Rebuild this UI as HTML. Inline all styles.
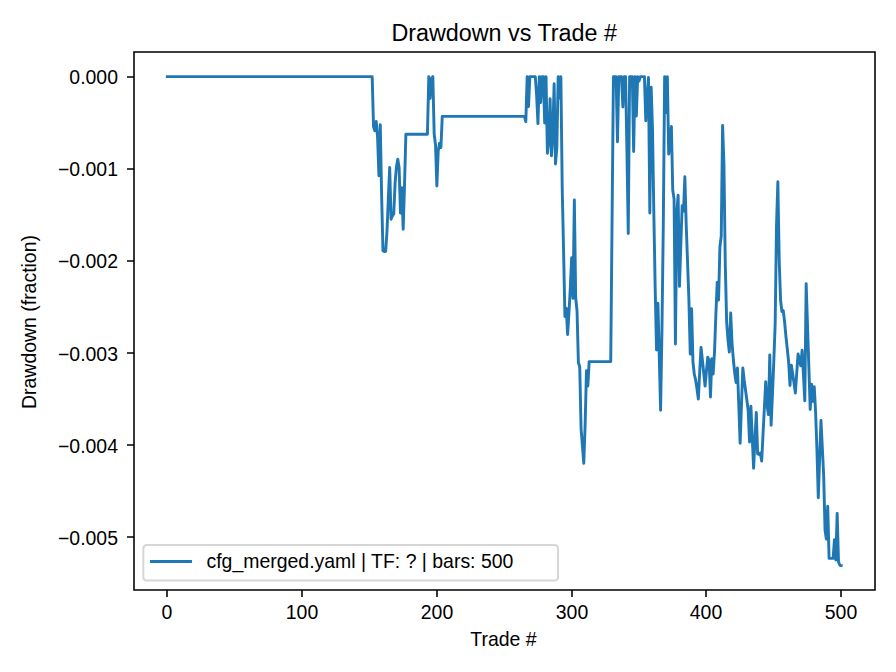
<!DOCTYPE html>
<html lang="en">
<head>
<meta charset="utf-8">
<title>Drawdown vs Trade #</title>
<style>
html,body{margin:0;padding:0;background:#ffffff;}
body{width:896px;height:672px;overflow:hidden;position:relative;font-family:"Liberation Sans",sans-serif;}
#fig{position:absolute;left:0;top:0;width:896px;height:672px;background:#ffffff;overflow:hidden;}
#fig svg text{font-family:"Liberation Sans","DejaVu Sans",sans-serif;fill:#000000;}
</style>
</head>
<body>
<div id="fig">
<svg width="896" height="672" viewBox="0 0 896 672" style="position:absolute;left:0;top:0;display:block">
<rect x="0" y="0" width="896" height="672" fill="#ffffff"/>
<defs><clipPath id="axclip"><rect x="133.62" y="52.3" width="741.28" height="538"/></clipPath></defs>
<g id="series" clip-path="url(#axclip)"><polyline fill="none" stroke="#1f77b4" stroke-width="2.917" stroke-linejoin="round" stroke-linecap="square" points="167.315,76.65 168.662,76.65 170.01,76.65 171.358,76.65 172.706,76.65 174.053,76.65 175.401,76.65 176.749,76.65 178.097,76.65 179.445,76.65 180.792,76.65 182.14,76.65 183.488,76.65 184.836,76.65 186.183,76.65 187.531,76.65 188.879,76.65 190.227,76.65 191.575,76.65 192.922,76.65 194.27,76.65 195.618,76.65 196.966,76.65 198.314,76.65 199.661,76.65 201.009,76.65 202.357,76.65 203.705,76.65 205.052,76.65 206.4,76.65 207.748,76.65 209.096,76.65 210.444,76.65 211.791,76.65 213.139,76.65 214.487,76.65 215.835,76.65 217.182,76.65 218.53,76.65 219.878,76.65 221.226,76.65 222.574,76.65 223.921,76.65 225.269,76.65 226.617,76.65 227.965,76.65 229.313,76.65 230.66,76.65 232.008,76.65 233.356,76.65 234.704,76.65 236.051,76.65 237.399,76.65 238.747,76.65 240.095,76.65 241.443,76.65 242.79,76.65 244.138,76.65 245.486,76.65 246.834,76.65 248.181,76.65 249.529,76.65 250.877,76.65 252.225,76.65 253.573,76.65 254.92,76.65 256.268,76.65 257.616,76.65 258.964,76.65 260.311,76.65 261.659,76.65 263.007,76.65 264.355,76.65 265.703,76.65 267.05,76.65 268.398,76.65 269.746,76.65 271.094,76.65 272.442,76.65 273.789,76.65 275.137,76.65 276.485,76.65 277.833,76.65 279.18,76.65 280.528,76.65 281.876,76.65 283.224,76.65 284.572,76.65 285.919,76.65 287.267,76.65 288.615,76.65 289.963,76.65 291.31,76.65 292.658,76.65 294.006,76.65 295.354,76.65 296.702,76.65 298.049,76.65 299.397,76.65 300.745,76.65 302.093,76.65 303.441,76.65 304.788,76.65 306.136,76.65 307.484,76.65 308.832,76.65 310.179,76.65 311.527,76.65 312.875,76.65 314.223,76.65 315.571,76.65 316.918,76.65 318.266,76.65 319.614,76.65 320.962,76.65 322.309,76.65 323.657,76.65 325.005,76.65 326.353,76.65 327.701,76.65 329.048,76.65 330.396,76.65 331.744,76.65 333.092,76.65 334.439,76.65 335.787,76.65 337.135,76.65 338.483,76.65 339.831,76.65 341.178,76.65 342.526,76.65 343.874,76.65 345.222,76.65 346.57,76.65 347.917,76.65 349.265,76.65 350.613,76.65 351.961,76.65 353.308,76.65 354.656,76.65 356.004,76.65 357.352,76.65 358.7,76.65 360.047,76.65 361.395,76.65 362.743,76.65 364.091,76.65 365.438,76.65 366.786,76.65 368.134,76.65 369.482,76.65 370.83,76.65 372.177,76.65 373.525,126.5 374.873,130.8 376.221,121.5 377.569,137 378.916,175.8 380.264,124.6 381.612,195 382.96,250.7 384.307,251.5 385.655,251.3 387.003,231 388.351,198 389.699,167.5 391.046,219.3 392.394,216 393.742,214 395.09,183 396.437,167 397.785,159.3 399.133,168 400.481,213 401.829,187.7 403.176,229.3 404.524,185 405.872,134.2 407.22,134.2 408.567,134.2 409.915,134.2 411.263,134.2 412.611,134.2 413.959,134.2 415.306,134.2 416.654,134.2 418.002,134.2 419.35,134.2 420.698,134.2 422.045,134.2 423.393,134.2 424.741,134.2 426.089,134.2 427.436,134.2 428.784,76.65 430.132,98.5 431.48,78.5 432.828,76.65 434.175,134 435.523,145 436.871,186 438.219,151 439.566,143.2 440.914,147.5 442.262,116.4 443.61,116.4 444.958,116.4 446.305,116.4 447.653,116.4 449.001,116.4 450.349,116.4 451.697,116.4 453.044,116.4 454.392,116.4 455.74,116.4 457.088,116.4 458.435,116.4 459.783,116.4 461.131,116.4 462.479,116.4 463.827,116.4 465.174,116.4 466.522,116.4 467.87,116.4 469.218,116.4 470.565,116.4 471.913,116.4 473.261,116.4 474.609,116.4 475.957,116.4 477.304,116.4 478.652,116.4 480,116.4 481.348,116.4 482.695,116.4 484.043,116.4 485.391,116.4 486.739,116.4 488.087,116.4 489.434,116.4 490.782,116.4 492.13,116.4 493.478,116.4 494.826,116.4 496.173,116.4 497.521,116.4 498.869,116.4 500.217,116.4 501.564,116.4 502.912,116.4 504.26,116.4 505.608,116.4 506.956,116.4 508.303,116.4 509.651,116.4 510.999,116.4 512.347,116.4 513.694,116.4 515.042,116.4 516.39,116.4 517.738,116.4 519.086,116.4 520.433,116.4 521.781,116.4 523.129,116.4 524.477,116.4 525.825,121.7 527.172,76.65 528.52,106.5 529.868,76.65 531.216,76.65 532.563,76.65 533.911,76.65 535.259,76.65 536.607,95 537.955,123.6 539.302,76.65 540.65,102.5 541.998,76.65 543.346,76.65 544.693,123 546.041,76.65 547.389,153.3 548.737,141 550.085,98.7 551.432,155.8 552.78,135 554.128,83.7 555.476,164 556.823,148 558.171,76.65 559.519,98 560.867,76.65 562.215,188 563.562,250 564.91,316.5 566.258,308.1 567.606,334.5 568.954,313 570.301,288 571.649,257.7 572.997,298.4 574.345,199.9 575.692,298 577.04,311 578.388,362.5 579.736,367 581.084,429 582.431,446 583.779,463.3 585.127,425 586.475,370.7 587.822,386 589.17,361.6 590.518,361.6 591.866,361.6 593.214,361.6 594.561,361.6 595.909,361.6 597.257,361.6 598.605,361.6 599.953,361.6 601.3,361.6 602.648,361.6 603.996,361.6 605.344,361.6 606.691,361.6 608.039,361.6 609.387,361.6 610.735,361.6 612.083,219 613.43,76.65 614.778,76.65 616.126,76.65 617.474,141.7 618.821,76.65 620.169,76.65 621.517,76.65 622.865,107 624.213,76.65 625.56,76.65 626.908,150 628.256,233.5 629.604,76.65 630.951,76.65 632.299,76.65 633.647,151.5 634.995,76.65 636.343,116 637.69,76.65 639.038,81 640.386,76.65 641.734,76.65 643.082,76.65 644.429,76.65 645.777,120.8 647.125,98 648.473,77.5 649.82,213 651.168,87.2 652.516,130 653.864,215 655.212,290 656.559,350 657.907,303.2 659.255,356 660.603,410.2 661.95,330 663.298,225 664.646,76.65 665.994,112.5 667.342,76.65 668.689,154 670.037,145 671.385,126.4 672.733,190 674.081,199 675.428,344 676.776,214 678.124,195.1 679.472,286.4 680.819,245 682.167,205.7 683.515,211 684.863,176.7 686.211,225 687.558,262 688.906,300 690.254,354 691.602,308.7 692.949,362 694.297,374 695.645,380 696.993,389 698.341,399 699.688,372 701.036,347.4 702.384,360 703.732,373 705.079,386 706.427,371 707.775,357.2 709.123,360.5 710.471,397 711.818,358.6 713.166,374 714.514,352 715.862,315 717.21,282.4 718.557,300 719.905,247 721.253,236 722.601,125.5 723.948,165 725.296,265 726.644,322 727.992,340 729.34,352 730.687,313 732.035,343 733.383,360 734.731,373 736.078,382.5 737.426,368 738.774,405 740.122,443.3 741.47,405 742.817,368 744.165,380 745.513,390 746.861,400 748.209,411 749.556,442 750.904,406.2 752.252,437 753.6,468.3 754.947,440 756.295,412.4 757.643,454 758.991,454.5 760.339,453 761.686,461 763.034,434 764.382,408 765.73,381.7 767.077,405 768.425,414.5 769.773,354.9 771.121,425.2 772.469,394 773.816,361 775.164,324 776.512,225 777.86,181.7 779.207,260 780.555,300 781.903,311.5 783.251,310.5 784.599,322 785.946,336.5 787.294,349 788.642,362 789.99,385.5 791.338,365.2 792.685,374 794.033,383 795.381,393 796.729,373 798.076,354 799.424,360 800.772,365.8 802.12,350.3 803.468,375 804.815,400.8 806.163,283.7 807.511,325 808.859,367 810.206,409.5 811.554,384.3 812.902,401.4 814.25,386.7 815.598,412 816.945,450 818.293,497.7 819.641,458 820.989,420.5 822.337,448 823.684,476 825.032,530 826.38,539.1 827.728,506.2 829.075,558.4 830.423,558.4 831.771,558.4 833.119,558.4 834.467,539.7 835.814,560 837.162,513.4 838.51,562 839.858,565.3 841.205,565.6"/></g>
<path id="ticks" d="M167 590 V597M302 590 V597M437 590 V597M572 590 V597M706 590 V597M841 590 V597M134 77 H127M134 169 H127M134 261 H127M134 353 H127M134 445 H127M134 537 H127" fill="none" stroke="#000000" stroke-width="1.556"/>
<path id="spines" d="M134 590 V52 M875 590 V52 M134 590 H875 M134 52 H875" fill="none" stroke="#000000" stroke-width="1.556" stroke-linecap="square"/>
<g id="legend"><path d="M 147.231 580.578 L 554.203 580.578 Q 558.092 580.578 558.092 576.689 L 558.092 548.911 Q 558.092 545.022 554.203 545.022 L 147.231 545.022 Q 143.342 545.022 143.342 548.911 L 143.342 576.689 Q 143.342 580.578 147.231 580.578 z" fill="#ffffff" stroke="#cccccc" stroke-width="1.944" stroke-linejoin="miter" opacity="0.8"/>
<path d="M151.5 561.5 H190.5" fill="none" stroke="#1f77b4" stroke-width="2.917" stroke-linecap="square"/></g>
<text x="167" y="619" font-size="19.444" text-anchor="middle">0</text>
<text x="302" y="619" font-size="19.444" text-anchor="middle">100</text>
<text x="437" y="619" font-size="19.444" text-anchor="middle">200</text>
<text x="572" y="619" font-size="19.444" text-anchor="middle">300</text>
<text x="706" y="619" font-size="19.444" text-anchor="middle">400</text>
<text x="841" y="619" font-size="19.444" text-anchor="middle">500</text>
<text x="503.5" y="646" font-size="19.444" text-anchor="middle">Trade #</text>
<text x="118" y="545" font-size="19.444" text-anchor="end">−0.005</text>
<text x="118" y="453" font-size="19.444" text-anchor="end">−0.004</text>
<text x="118" y="361" font-size="19.444" text-anchor="end">−0.003</text>
<text x="118" y="268" font-size="19.444" text-anchor="end">−0.002</text>
<text x="118" y="176" font-size="19.444" text-anchor="end">−0.001</text>
<text x="118" y="84" font-size="19.444" text-anchor="end">0.000</text>
<text x="36" y="322" font-size="19.444" text-anchor="middle" transform="rotate(-90 36 322)">Drawdown (fraction)</text>
<text x="504.2" y="41" font-size="23.333" text-anchor="middle">Drawdown vs Trade #</text>
<text x="206.5" y="568" font-size="19.444" text-anchor="start">cfg_merged.yaml | TF: ? | bars: 500</text>
</svg>
</div>
</body>
</html>
